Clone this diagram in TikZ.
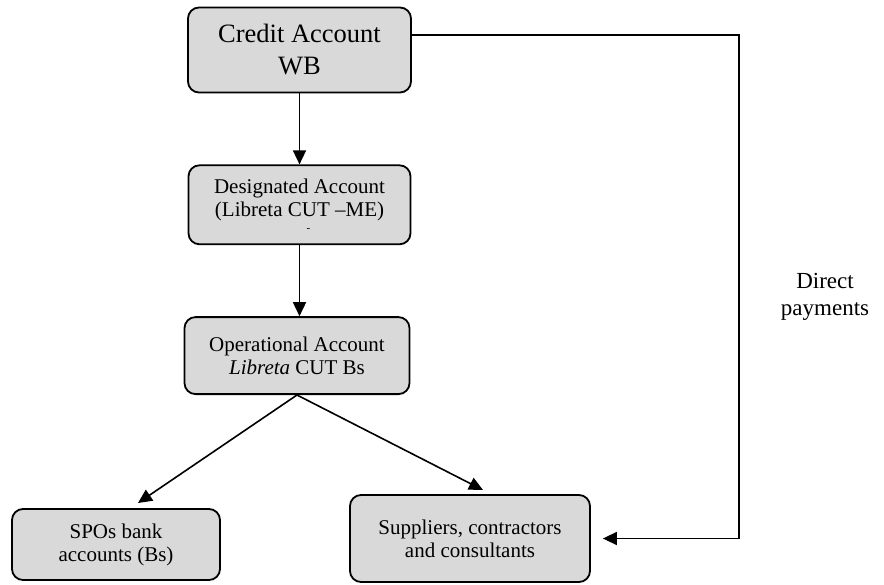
\documentclass[tikz,border=0pt]{standalone}
\usepackage{fontspec}
\setmainfont{Liberation Serif}
\usetikzlibrary{arrows.meta,positioning,calc}
\definecolor{BoxGray}{RGB}{217,217,217}
\tikzset{
  account/.style={draw=black,fill=BoxGray,line width=1.8pt,rounded corners=11pt,
    inner sep=0pt,align=center,font=\fontsize{21}{23}\selectfont},
  flow/.style={-{Triangle[length=14pt,width=13pt]},line width=1.6pt,black}
}

\begin{document}
\begin{tikzpicture}[x=1pt,y=-1pt,node distance=71pt]
\useasboundingbox (0,0) rectangle (884,584);

\node[account,minimum width=223pt,minimum height=85pt,
  font=\fontsize{26.5}{32}\selectfont] (credit) at (299.5,50) {Credit Account\\WB};
\node[account,minimum width=222pt,minimum height=79pt,below=of credit] (desig)
  {Designated Account\\(Libreta CUT --ME)\\[-8pt]{\fontsize{11}{11}\selectfont\hspace*{18pt}-}};
\node[account,minimum width=225pt,minimum height=77pt,below=of desig,xshift=-2.5pt] (oper)
  {Operational Account\\\textit{Libreta} CUT Bs};
\node[account,minimum width=208pt,minimum height=71pt] (spos) at (116,544.5)
  {SPOs bank\\accounts (Bs)};
\node[account,minimum width=240pt,minimum height=87pt] (supp) at (470,538.5)
  {Suppliers, contractors\\and consultants};

\coordinate (sposin) at (138,503);
\coordinate (suppin) at (483,490);
\coordinate (dptop) at (739,35);
\coordinate (dpbot) at (739,538.5);

\draw[flow] (credit.south) -- (credit.south |- desig.north);
\draw[flow] (desig.south) -- (desig.south |- oper.north);
\draw[flow] (oper.south) -- (sposin);
\draw[flow] (oper.south) -- (suppin);

% direct payments
\draw[flow] ([yshift=15pt]credit.east) -- (dptop) -- (dpbot) -- ([xshift=12pt]supp.east);
\node[align=center,font=\fontsize{23}{27}\selectfont] (direct) at (825,297) {Direct\\payments};

\end{tikzpicture}
\end{document}
